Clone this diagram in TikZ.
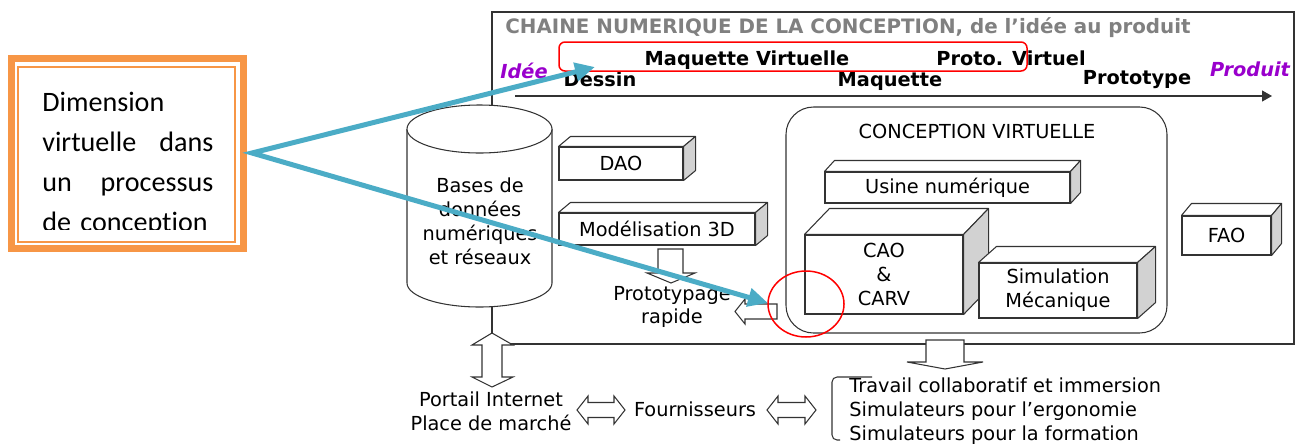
\documentclass[tikz,border=0pt]{standalone}
\usepackage{fontspec}
\setmainfont{DejaVu Sans}
\newfontfamily\calibri[Ligatures=NoCommon]{Carlito}
\usepackage{tikz}
\usetikzlibrary{arrows.meta,calc}
\definecolor{orangeC}{RGB}{247,150,70}
\definecolor{bleuC}{RGB}{75,172,198}
\definecolor{violetC}{RGB}{153,0,204}
\definecolor{grisC}{RGB}{128,128,128}

\begin{document}
\begin{tikzpicture}[x=0.02cm, y=-0.02cm,
    trait/.style={draw=black!80, line width=0.6pt},
    txt/.style={font=\fontsize{11}{13.6}\selectfont, align=center, inner sep=0},
    etape/.style={font=\fontsize{11}{13.6}\selectfont\bfseries, inner sep=0, anchor=base},
    extreme/.style={font=\fontsize{11}{13.6}\selectfont\bfseries\itshape, text=violetC, inner sep=0, anchor=base},
    boite/.style={trait, fill=white, inner sep=0, align=center, font=\fontsize{11}{13.6}\selectfont},
    face/.style={trait, fill=white, line join=round},
    bloc/.style={trait, fill=white},
    fleche/.style={draw=bleuC, line width=0.1cm, line join=miter}
]
\useasboundingbox (0,0) rectangle (1300,443);

% Cadre de la chaine numerique
\draw[trait] (492,12) rectangle (1294,344);
\node[anchor=base west, font=\fontsize{11.3}{13.6}\selectfont\bfseries, text=grisC, inner sep=0] (titre) at (505,33) {CHAINE NUMERIQUE DE LA CONCEPTION, de l’idée au produit};

% Axe de l'idee au produit
\node[etape] (maqv) at (747,65) {Maquette Virtuelle};
\node[etape] (protov) at (1011,65) {Proto. Virtuel};
\node[extreme] (idee) at (524,78) {Idée};
\node[etape] (dessin) at (600,86) {Dessin};
\node[etape] (maquette) at (890,86) {Maquette};
\node[etape] (proto) at (1137,84) {Prototype};
\node[extreme] (produit) at (1250,76) {Produit};
\coordinate (debut) at (515,96);
\coordinate (fin) at (1272,96);
\draw[trait, -{Triangle[length=0.2cm, width=0.22cm]}] (debut) -- (fin);
\draw[red, line width=0.03cm, rounded corners=0.12cm] (559,42) rectangle (1027,71);

% Bases de donnees
\draw[trait, fill=white] (407,129) -- (407,283) arc[start angle=180, end angle=0, x radius=72.5, y radius=24] -- (552,129);
\draw[trait, fill=white] (479.5,129) ellipse[x radius=72.5, y radius=24];
\node[txt] (bdd) at (480,221) {Bases de\\données\\numériques\\et réseaux};

% Conception virtuelle
\draw[trait, rounded corners=0.55cm] (786,107) rectangle (1167,333);
\node[txt] (cv) at (977,131) {CONCEPTION VIRTUELLE};

% Boites 3D
\foreach \nom/\cx/\cy/\larg/\haut/\dx/\dy/\texte in {
    dao/621/163.5/124/33/12/10/DAO,
    modelisation/657/229/196/32/12/10/Modélisation 3D,
    usine/947.5/187.5/245/31/10/11/Usine numérique,
    cao/884/274.5/158/79/25/26/{CAO\\\&\\CARV},
    simulation/1058/290.5/158/55/18/16/{Simulation\\Mécanique},
    fao/1226.5/235.5/89/39/10/12/FAO}
{
    \node[boite, minimum width=\larg*0.02cm, minimum height=\haut*0.02cm] (\nom) at (\cx,\cy) {\texte};
    \draw[face] (\nom.north west) -- ++(\dx,-\dy) -- ([shift={(\dx,-\dy)}]\nom.north east) -- (\nom.north east) -- cycle;
    \draw[face, fill=gray!35] (\nom.north east) -- ++(\dx,-\dy) -- ([shift={(\dx,-\dy)}]\nom.south east) -- (\nom.south east) -- cycle;
}

% Prototypage rapide
\node[txt] (rapide) at (672,307) {Prototypage\\rapide};
\draw[bloc] (658,249) -- (683,249) -- (683,273) -- (695,273) -- (671,283) -- (647,273) -- (658,273) -- cycle;
\draw[bloc] (777,304) -- (745,304) -- (745,299) -- (735,311.5) -- (745,324) -- (745,319) -- (777,319) -- cycle;

% Sorties
\draw[bloc] (926,340) -- (964,340) -- (964,362) -- (983,362) -- (945,369) -- (907,362) -- (926,362) -- cycle;
\draw[bloc] (492,333) -- (513,345) -- (502,345) -- (502,377) -- (513,377) -- (492,387) -- (472,377) -- (482,377) -- (482,345) -- (472,345) -- cycle;
\draw[bloc] (577,410) -- (588,396) -- (588,402.5) -- (614,402.5) -- (614,396) -- (625,410) -- (614,424) -- (614,417.5) -- (588,417.5) -- (588,424) -- cycle;
\draw[bloc] (767,410) -- (778,396) -- (778,402.5) -- (805,402.5) -- (805,396) -- (816,410) -- (805,424) -- (805,417.5) -- (778,417.5) -- (778,424) -- cycle;

\node[txt] (portail) at (491,411) {Portail Internet\\Place de marché};
\node[txt] (fourn) at (695,409) {Fournisseurs};
\node[txt, align=left, anchor=west] (usages) at (849,411) {Travail collaboratif et immersion\\Simulateurs pour l’ergonomie\\Simulateurs pour la formation};
\draw[trait, rounded corners=0.1cm] (872,377) -- (832,377) -- (832,440) -- (840,440);

% Encadre orange
\begin{scope}
\clip (18,67) rectangle (235,229);
\node[anchor=north west, inner sep=0, text width=3.42cm, align=left, font=\calibri\fontsize{16}{22.8}\selectfont] (dimension) at (42,92) {Dimension\\virtuelle\hfill dans\\un\hfill processus\\de conception};
\end{scope}
\draw[orangeC, line width=1.2pt] (18,67) rectangle (235,242);
\draw[orangeC, line width=0.14cm] (11.5,58.5) rectangle (243.5,248.5);

% Fleches bleues
\coordinate (pointe) at (252,153);
\coordinate (cible haut) at (595,67);
\coordinate (cible bas) at (768,303);
\draw[fleche, {Triangle[length=0.4cm, width=0.36cm]}-{Triangle[length=0.4cm, width=0.36cm]}] (cible haut) -- (pointe) -- (cible bas);
\draw[red, line width=0.03cm] (806,304) ellipse[x radius=38, y radius=33];

\end{tikzpicture}
\end{document}
